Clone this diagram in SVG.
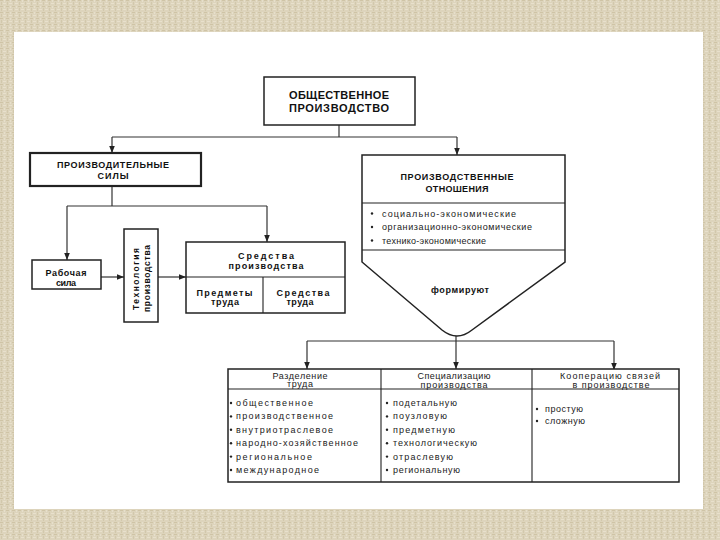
<svg xmlns="http://www.w3.org/2000/svg" width="720" height="540" viewBox="0 0 720 540">
<defs>
<pattern id="tex" width="6" height="6" patternUnits="userSpaceOnUse">
<rect width="6" height="6" fill="#ddd4bc"/>
<rect x="0" y="0" width="3" height="1" fill="#cfc4a6"/>
<rect x="3" y="3" width="3" height="1" fill="#e8e0cc"/>
<rect x="1" y="2" width="1" height="3" fill="#d2c8ac"/>
<rect x="4" y="0" width="1" height="2" fill="#e6dfcb"/>
</pattern>
<marker id="arr" viewBox="0 0 10 10" refX="10" refY="5" markerWidth="7" markerHeight="7" markerUnits="userSpaceOnUse" orient="auto">
<path d="M0,1 L10,5 L0,9 Z" fill="#222"/>
</marker>
<style>
.box{fill:#fff;stroke:#222;stroke-width:1.5}
.thick{fill:#fff;stroke:#222;stroke-width:2.2}
.ln{fill:none;stroke:#222;stroke-width:1.1}
.con{fill:none;stroke:#333;stroke-width:1.2}
.hb{font-family:"Liberation Sans",Arial,sans-serif;font-weight:bold;fill:#111;text-anchor:middle}
.n{font-family:"Liberation Sans",Arial,sans-serif;fill:#1a1a1a;font-size:9px}
.nc{font-family:"Liberation Sans",Arial,sans-serif;fill:#1a1a1a;font-size:9px;text-anchor:middle}
.dot{fill:#222}
</style>
</defs>
<rect width="720" height="540" fill="url(#tex)"/>
<rect x="14" y="32" width="689" height="477" fill="#ffffff"/>

<g id="connectors">
<path class="con" d="M339,125 V137"/>
<path class="con" d="M112,137 H457"/>
<path class="con" d="M112,137 V153" marker-end="url(#arr)"/>
<path class="con" d="M457,137 V155" marker-end="url(#arr)"/>
<path class="con" d="M112,186 V206"/>
<path class="con" d="M67,206 H267"/>
<path class="con" d="M67,206 V260" marker-end="url(#arr)"/>
<path class="con" d="M267,206 V242" marker-end="url(#arr)"/>
<path class="con" d="M101,277 H124" marker-end="url(#arr)"/>
<path class="con" d="M158,277 H186" marker-end="url(#arr)"/>
<path class="con" d="M307,341 H614"/>
<path class="con" d="M307,341 V369" marker-end="url(#arr)"/>
<path class="con" d="M456,336 V369" marker-end="url(#arr)"/>
<path class="con" d="M614,341 V370" marker-end="url(#arr)"/>
</g>

<g id="node-obshchestvennoe">
<rect class="box" x="264" y="77" width="151" height="48"/>
<text class="hb" font-size="11" x="339" y="98.5" textLength="100">ОБЩЕСТВЕННОЕ</text>
<text class="hb" font-size="11" x="339" y="112" textLength="100">ПРОИЗВОДСТВО</text>
</g>

<g id="node-sily">
<rect class="thick" x="30" y="153" width="171" height="33"/>
<text class="hb" font-size="9" x="113" y="167.5" textLength="112">ПРОИЗВОДИТЕЛЬНЫЕ</text>
<text class="hb" font-size="9" x="113" y="179" textLength="31">СИЛЫ</text>
</g>

<g id="node-otnosheniya">
<path class="box" d="M362,155 H565 V262 L472,330 Q457,342 442,330 L362,262 Z"/>
<path class="ln" d="M362,203 H565 M362,250 H565"/>
<text class="hb" font-size="9" x="457" y="180" textLength="113">ПРОИЗВОДСТВЕННЫЕ</text>
<text class="hb" font-size="9" x="457" y="191.5" textLength="63">ОТНОШЕНИЯ</text>
<circle class="dot" cx="372" cy="213.5" r="1.2"/>
<circle class="dot" cx="372" cy="227" r="1.2"/>
<circle class="dot" cx="372" cy="240.5" r="1.2"/>
<text class="n" x="382" y="216.5" textLength="134">социально-экономические</text>
<text class="n" x="382" y="230" textLength="150">организационно-экономические</text>
<text class="n" x="382" y="243.5" textLength="104">технико-экономические</text>
<text class="hb" font-size="9" x="460" y="293" textLength="58">формируют</text>
</g>

<g id="node-rabochaya">
<rect class="box" x="32" y="260" width="69" height="29"/>
<text class="hb" font-size="9" x="66" y="276" textLength="41">Рабочая</text>
<text class="hb" font-size="9" x="66" y="285.5" textLength="20">сила</text>
</g>

<g id="node-tekhnologiya">
<rect class="box" x="124" y="229" width="34" height="93"/>
<text class="hb" font-size="8.5" transform="translate(138.5,279) rotate(-90)" x="0" y="0" textLength="62">Технология</text>
<text class="hb" font-size="8.5" transform="translate(150,278.5) rotate(-90)" x="0" y="0" textLength="67">производства</text>
</g>

<g id="node-sredstva">
<rect class="box" x="186" y="242" width="159" height="71"/>
<path class="ln" d="M186,277 H345 M263,277 V313"/>
<text class="hb" font-size="9" x="266" y="259" textLength="56">Средства</text>
<text class="hb" font-size="9" x="266" y="269" textLength="75">производства</text>
<text class="hb" font-size="9" x="224.5" y="296" textLength="56">Предметы</text>
<text class="hb" font-size="9" x="225" y="305" textLength="28">труда</text>
<text class="hb" font-size="9" x="303" y="296" textLength="53">Средства</text>
<text class="hb" font-size="9" x="300" y="305" textLength="27">труда</text>
</g>

<g id="node-table">
<rect class="box" x="228" y="369" width="451" height="113"/>
<path class="ln" d="M228,389 H679 M381,369 V482 M532,369 V482"/>
</g>

<g id="node-razdelenie">
<text class="nc" x="300" y="378.5" textLength="55">Разделение</text>
<text class="nc" x="300" y="387" textLength="26">труда</text>
<circle class="dot" cx="231" cy="403" r="1.2"/>
<circle class="dot" cx="231" cy="416.4" r="1.2"/>
<circle class="dot" cx="231" cy="429.8" r="1.2"/>
<circle class="dot" cx="231" cy="443.2" r="1.2"/>
<circle class="dot" cx="231" cy="456.6" r="1.2"/>
<circle class="dot" cx="231" cy="470" r="1.2"/>
<text class="n" x="236" y="406" textLength="77">общественное</text>
<text class="n" x="236" y="419.4" textLength="97">производственное</text>
<text class="n" x="236" y="432.8" textLength="97">внутриотраслевое</text>
<text class="n" x="236" y="446.2" textLength="122">народно-хозяйственное</text>
<text class="n" x="236" y="459.6" textLength="76">региональное</text>
<text class="n" x="236" y="473" textLength="83">международное</text>
</g>

<g id="node-specializaciya">
<text class="nc" x="454" y="379" textLength="73">Специализацию</text>
<text class="nc" x="454" y="388" textLength="67">производства</text>
<circle class="dot" cx="387" cy="403" r="1.2"/>
<circle class="dot" cx="387" cy="416.4" r="1.2"/>
<circle class="dot" cx="387" cy="429.8" r="1.2"/>
<circle class="dot" cx="387" cy="443.2" r="1.2"/>
<circle class="dot" cx="387" cy="456.6" r="1.2"/>
<circle class="dot" cx="387" cy="470" r="1.2"/>
<text class="n" x="393" y="406" textLength="64">подетальную</text>
<text class="n" x="393" y="419.4" textLength="54">поузловую</text>
<text class="n" x="393" y="432.8" textLength="62">предметную</text>
<text class="n" x="393" y="446.2" textLength="84">технологическую</text>
<text class="n" x="393" y="459.6" textLength="60">отраслевую</text>
<text class="n" x="393" y="473" textLength="67">региональную</text>
</g>

<g id="node-kooperaciya">
<text class="nc" x="610" y="378.5" textLength="100">Кооперацию связей</text>
<text class="nc" x="611" y="387.5" textLength="77">в  производстве</text>
<circle class="dot" cx="537" cy="409" r="1.2"/>
<circle class="dot" cx="537" cy="421" r="1.2"/>
<text class="n" x="545" y="412" textLength="38">простую</text>
<text class="n" x="545" y="424" textLength="40">сложную</text>
</g>
</svg>
